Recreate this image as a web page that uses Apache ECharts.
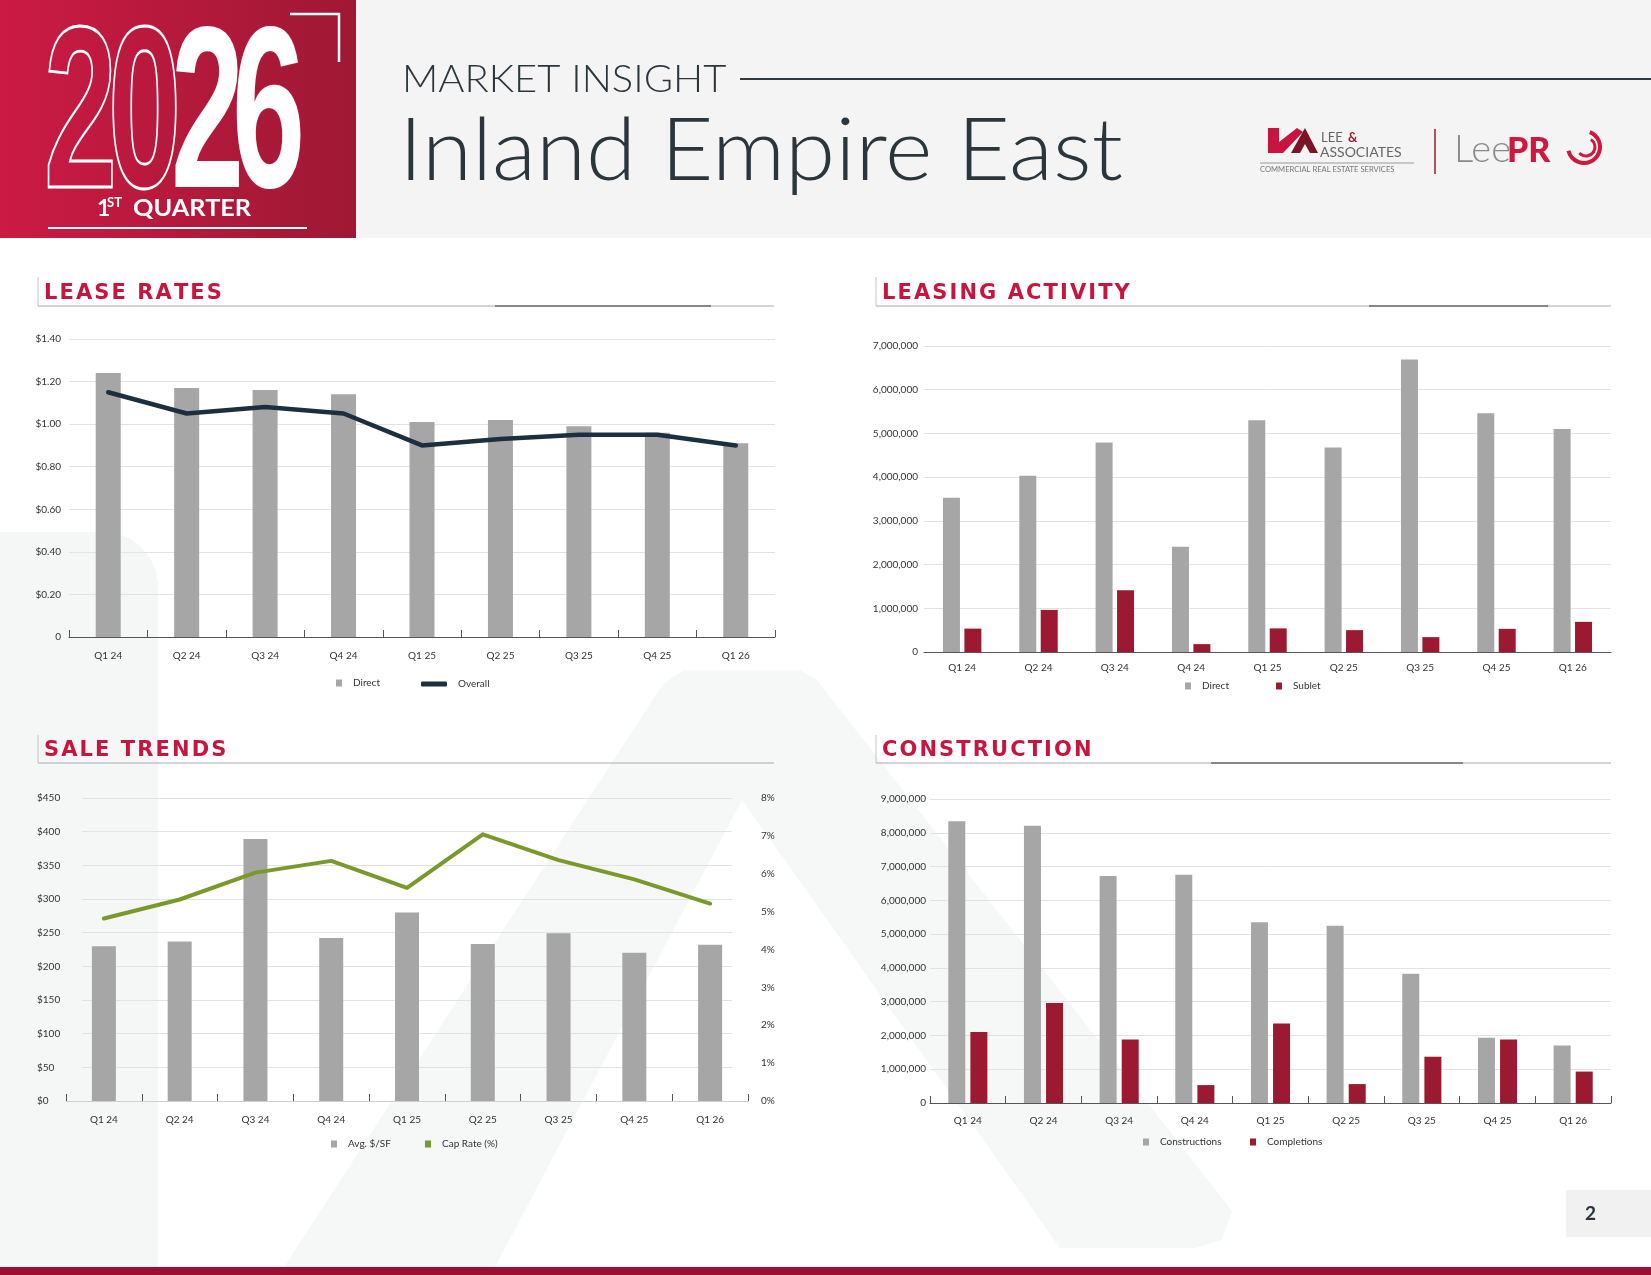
<!DOCTYPE html>
<html>
<head>
<meta charset="utf-8">
<title>Inland Empire East - Market Insight</title>
<script src="https://cdn.jsdelivr.net/npm/echarts@6/dist/echarts.min.js"></script>
<style>
  html, body { margin: 0; padding: 0; background: #ffffff; }
  #chart { width: 1651px; height: 1275px; }
</style>
</head>
<body>
<div id="chart"></div>
<script>
// Data
var quarters = ['Q1 24', 'Q2 24', 'Q3 24', 'Q4 24', 'Q1 25', 'Q2 25', 'Q3 25', 'Q4 25', 'Q1 26'];

var leaseDirect  = [1.24, 1.17, 1.16, 1.14, 1.01, 1.02, 0.99, 0.96, 0.91];
var leaseOverall = [1.15, 1.05, 1.08, 1.05, 0.90, 0.93, 0.95, 0.95, 0.90];
var leaseTicks   = ['0', '$0.20', '$0.40', '$0.60', '$0.80', '$1.00', '$1.20', '$1.40'];

var leasingDirect = [3530000, 4030000, 4790000, 2410000, 5300000, 4680000, 6690000, 5460000, 5100000];
var leasingSublet = [535000, 963000, 1410000, 180000, 540000, 500000, 340000, 530000, 690000];
var leasingTicks  = ['0', '1,000,000', '2,000,000', '3,000,000', '4,000,000', '5,000,000', '6,000,000', '7,000,000'];

var saleAvgPsf  = [230, 237, 389, 242, 280, 233, 249, 220, 232];
var saleCapRate = [4.82, 5.32, 6.03, 6.34, 5.63, 7.04, 6.36, 5.85, 5.21];
var salePsfTicks = ['$0', '$50', '$100', '$150', '$200', '$250', '$300', '$350', '$400', '$450'];
var saleCapTicks = ['0%', '1%', '2%', '3%', '4%', '5%', '6%', '7%', '8%'];

var constUnder = [8340000, 8210000, 6720000, 6760000, 5350000, 5250000, 3830000, 1930000, 1700000];
var constDone  = [2100000, 2960000, 1880000, 530000, 2350000, 560000, 1370000, 1880000, 930000];
var constTicks = ['0', '1,000,000', '2,000,000', '3,000,000', '4,000,000', '5,000,000', '6,000,000', '7,000,000', '8,000,000', '9,000,000'];

// Colors
var grey = '#a6a6a6';
var darkRed = '#9b1a31';
var navy = '#1c2f40';
var olive = '#7a992c';
var crimson = '#c8153f';

// helpers
function xCat(gridIndex, opts) {
    return {
        type: 'category', gridIndex: gridIndex, data: quarters, show: opts.show !== false,
        axisLine: { lineStyle: { color: opts.lineColor || '#555', width: 1 } },
        axisTick: { show: opts.ticks, inside: true, length: 7, lineStyle: { color: '#555' } },
        axisLabel: { fontFamily: 'Lato', fontSize: 10, color: '#333', margin: opts.margin }
    };
}

function yVal(gridIndex, max, interval, ticks, opts) {
    return {
        type: 'value', gridIndex: gridIndex, min: 0, max: max, interval: interval,
        position: opts.position || 'left',
        axisLine: { show: false }, axisTick: { show: false },
        splitLine: { show: opts.split !== false, lineStyle: { color: '#e2e2e2', width: 1 } },
        axisLabel: {
            show: opts.labels !== false,
            fontFamily: 'Lato', fontSize: 10, color: '#333', margin: opts.margin,
            align: opts.align || 'right',
            formatter: function (v, i) { return ticks[i]; }
        }
    };
}

function legendItem(name, x, y, icon, w, h) {
    return {
        left: x, top: y - 7, padding: 0, selectedMode: false,
        itemWidth: w, itemHeight: h,
        data: [{ name: name, icon: icon }],
        textStyle: { fontFamily: 'Lato', fontSize: 10, color: '#333', padding: [0, 0, 0, 6] }
    };
}

// spread caps a little, the report font is tracked out
function tracked(s) { return s.split('').join('\u200A'); }

function heading(text, x0, yTop, yLine, x1, dark) {
    var els = [
        { type: 'line', shape: { x1: x0, y1: yTop, x2: x0, y2: yLine }, style: { stroke: '#c4c4c4', lineWidth: 1 } },
        { type: 'line', shape: { x1: x0, y1: yLine, x2: x1, y2: yLine }, style: { stroke: '#a9a9a9', lineWidth: 1.2 } },
        { type: 'text', x: x0 + 6, y: (yTop + yLine) / 2 + 2,
          style: { text: tracked(text), fontFamily: 'DejaVu Sans', fontWeight: 'bold', fontSize: 21, fill: crimson, verticalAlign: 'middle' } }
    ];
    if (dark) {
        els.push({ type: 'line', shape: { x1: dark[0], y1: yLine, x2: dark[1], y2: yLine }, style: { stroke: '#6e6e6e', lineWidth: 1.4 } });
    }
    return els;
}

var graphics = [];

// background watermark shapes
graphics.push({ type: 'rect', z: -10, silent: true, shape: { x: 0, y: 532, width: 158, height: 735, r: [0, 55, 0, 0] }, style: { fill: '#f5f6f6' } });
graphics.push({ type: 'polygon', z: -10, silent: true,
    shape: { points: [[284, 1267], [663, 684], [684, 670], [800, 670], [816, 679], [1232, 1211], [1222, 1240], [1195, 1248], [1060, 1248], [742, 800], [495, 1267]] },
    style: { fill: '#f6f7f7' } });

// header band
graphics.push({ type: 'rect', shape: { x: 0, y: 0, width: 1651, height: 238 }, style: { fill: '#f4f4f4' } });
graphics.push({ type: 'rect', shape: { x: 0, y: 0, width: 356, height: 238 },
    style: { fill: new echarts.graphic.LinearGradient(0, 0, 1, 0, [{ offset: 0, color: '#cc1a44' }, { offset: 1, color: '#9e1834' }]) } });

// 2026 digits
function digit(ch, x, outline) {
    var st = { text: ch, fontFamily: 'Liberation Sans', fontWeight: 'bold', fontSize: 231, verticalAlign: 'middle', textAlign: 'left' };
    if (outline) { st.fill = 'rgba(0,0,0,0)'; st.stroke = '#ffffff'; st.lineWidth = 2.8; }
    else { st.fill = '#ffffff'; st.stroke = '#b8193b'; st.lineWidth = 2.5; }
    return { type: 'text', x: x, y: 123, scaleX: 0.569, style: st };
}
graphics.push(digit('2', 44, true));
graphics.push(digit('0', 108, true));
graphics.push(digit('2', 171, false));
graphics.push(digit('6', 232, false));
graphics.push({ type: 'polyline', shape: { points: [[290, 14], [339, 14], [339, 62]] }, style: { stroke: '#ffffff', lineWidth: 2.5, fill: null } });
graphics.push({ type: 'text', x: 97, y: 209, style: { text: '1', fontFamily: 'Lato', fontWeight: 'bold', fontSize: 23, fill: '#fff', verticalAlign: 'middle' } });
graphics.push({ type: 'text', x: 107, y: 203, style: { text: 'ST', fontFamily: 'Lato', fontWeight: 'bold', fontSize: 13, fill: '#fff', verticalAlign: 'middle' } });
graphics.push({ type: 'text', x: 133, y: 209, scaleX: 1.1, style: { text: 'QUARTER', fontFamily: 'Lato', fontWeight: 'bold', fontSize: 23, fill: '#fff', verticalAlign: 'middle' } });
graphics.push({ type: 'line', shape: { x1: 48, y1: 228, x2: 307, y2: 228 }, style: { stroke: '#ffffff', lineWidth: 2 } });

// titles
graphics.push({ type: 'text', x: 402, y: 80, scaleX: 1.08, style: { text: 'MARKET INSIGHT', fontFamily: 'Lato', fontWeight: 300, fontSize: 37, fill: '#2b363c', verticalAlign: 'middle' } });
graphics.push({ type: 'line', shape: { x1: 740, y1: 79, x2: 1651, y2: 79 }, style: { stroke: '#2f3a40', lineWidth: 2 } });
graphics.push({ type: 'text', x: 399, y: 152, scaleX: 1.057, style: { text: 'Inland Empire East', fontFamily: 'Lato', fontWeight: 300, fontSize: 86, fill: '#2b363c', verticalAlign: 'middle' } });

// Lee & Associates logo
graphics.push({ type: 'polygon', shape: { points: [[1268, 128], [1279, 128], [1279, 142], [1297, 128], [1303, 132], [1283, 153], [1268, 153]] }, style: { fill: crimson } });
graphics.push({ type: 'polygon', shape: { points: [[1291, 153], [1305, 128], [1318, 153], [1310, 153], [1305, 144], [1300, 153]] }, style: { fill: '#7d1326' } });
graphics.push({ type: 'text', x: 1321, y: 138, style: { text: 'LEE ', fontFamily: 'Lato', fontSize: 13, fill: '#666', verticalAlign: 'middle' } });
graphics.push({ type: 'text', x: 1348, y: 138, style: { text: '&', fontFamily: 'Lato', fontWeight: 'bold', fontSize: 13, fill: darkRed, verticalAlign: 'middle' } });
graphics.push({ type: 'text', x: 1320, y: 152, style: { text: 'ASSOCIATES', fontFamily: 'Lato', fontSize: 14, fill: '#666', verticalAlign: 'middle' } });
graphics.push({ type: 'line', shape: { x1: 1260, y1: 163, x2: 1414, y2: 163 }, style: { stroke: '#999', lineWidth: 1 } });
graphics.push({ type: 'text', x: 1260, y: 170, style: { text: 'COMMERCIAL REAL ESTATE SERVICES', fontFamily: 'Lato', fontSize: 7.6, fill: '#777', verticalAlign: 'middle' } });
graphics.push({ type: 'line', shape: { x1: 1435, y1: 129, x2: 1435, y2: 174 }, style: { stroke: darkRed, lineWidth: 1.5 } });
graphics.push({ type: 'text', x: 1454, y: 150, style: { text: 'Lee', fontFamily: 'Lato', fontWeight: 300, fontSize: 38, fill: '#8a8a8a', verticalAlign: 'middle' } });
graphics.push({ type: 'text', x: 1507, y: 151, style: { text: 'PR', fontFamily: 'Lato', fontWeight: 900, fontSize: 34, fill: '#d0173f', verticalAlign: 'middle' } });
graphics.push({ type: 'arc', shape: { cx: 1584, cy: 147, r: 16, startAngle: -1.2, endAngle: 2.9 }, style: { stroke: '#d0173f', lineWidth: 4, fill: null } });
graphics.push({ type: 'arc', shape: { cx: 1586, cy: 147, r: 9, startAngle: -1.0, endAngle: 2.4 }, style: { stroke: '#d0173f', lineWidth: 3, fill: null } });

// section headings
graphics = graphics.concat(heading('LEASE RATES', 38, 277, 306, 774, [495, 711]));
graphics = graphics.concat(heading('LEASING ACTIVITY', 876, 277, 306, 1611, [1369, 1548]));
graphics = graphics.concat(heading('SALE TRENDS', 38, 735, 763, 774, null));
graphics = graphics.concat(heading('CONSTRUCTION', 876, 735, 763, 1611, [1211, 1463]));

// page number and footer
graphics.push({ type: 'rect', shape: { x: 1566, y: 1190, width: 85, height: 47 }, style: { fill: '#f1f1f1' } });
graphics.push({ type: 'text', x: 1585, y: 1214, style: { text: '2', fontFamily: 'Lato', fontWeight: 'bold', fontSize: 19, fill: '#2b363c', verticalAlign: 'middle' } });
graphics.push({ type: 'rect', shape: { x: 0, y: 1267, width: 1651, height: 8 }, style: { fill: '#9c0f33' } });

var option = {
    backgroundColor: '#ffffff',
    animation: false,
    grid: [
        { left: 69, top: 339, width: 706, height: 298 },
        { left: 924, top: 346, width: 687, height: 306 },
        { left: 66, top: 798, width: 682, height: 303 },
        { left: 930, top: 799, width: 681, height: 304 },
        { left: 82, top: 798, width: 650, height: 303 }   // gridlines of sale trends are inset
    ],
    xAxis: [
        xCat(0, { ticks: true, margin: 14 }),
        xCat(1, { ticks: false, margin: 11 }),
        xCat(2, { ticks: true, margin: 14, lineColor: '#cfcfcf' }),
        xCat(3, { ticks: true, margin: 13 }),
        xCat(4, { show: false, ticks: false, margin: 0 })
    ],
    yAxis: [
        yVal(0, 1.4, 0.2, leaseTicks, { margin: 8 }),
        yVal(1, 7000000, 1000000, leasingTicks, { margin: 6 }),
        yVal(2, 450, 50, salePsfTicks, { margin: 29, align: 'left', split: false }),
        yVal(2, 8, 1, saleCapTicks, { margin: 13, align: 'left', position: 'right', split: false }),
        yVal(3, 9000000, 1000000, constTicks, { margin: 4 }),
        yVal(4, 450, 50, salePsfTicks, { margin: 0, labels: false })
    ],
    legend: [
        legendItem('Direct', 336, 685, 'rect', 6, 7),
        legendItem('Overall', 421, 686, 'roundRect', 26, 5),
        legendItem('Direct', 1185, 688, 'rect', 6, 7),
        legendItem('Sublet', 1276, 688, 'rect', 6, 7),
        legendItem('Avg. $/SF', 331, 1146, 'rect', 6, 7),
        legendItem('Cap Rate (%)', 425, 1146, 'rect', 6, 7),
        legendItem('Constructions', 1143, 1144, 'rect', 6, 7),
        legendItem('Completions', 1250, 1144, 'rect', 6, 7)
    ],
    graphic: { elements: graphics },
    series: [
        { name: 'Direct', type: 'bar', xAxisIndex: 0, yAxisIndex: 0, data: leaseDirect, barWidth: 25, itemStyle: { color: grey } },
        { name: 'Overall', type: 'line', xAxisIndex: 0, yAxisIndex: 0, data: leaseOverall, showSymbol: false, symbol: 'none',
          lineStyle: { color: navy, width: 4.5, cap: 'round', join: 'round' }, itemStyle: { color: navy } },
        { name: 'Direct', type: 'bar', xAxisIndex: 1, yAxisIndex: 1, data: leasingDirect, barWidth: 17, barGap: '26%', itemStyle: { color: grey } },
        { name: 'Sublet', type: 'bar', xAxisIndex: 1, yAxisIndex: 1, data: leasingSublet, barWidth: 17, barGap: '26%', itemStyle: { color: darkRed } },
        { name: 'Avg. $/SF', type: 'bar', xAxisIndex: 2, yAxisIndex: 2, data: saleAvgPsf, barWidth: 24, itemStyle: { color: grey } },
        { name: 'Cap Rate (%)', type: 'line', xAxisIndex: 2, yAxisIndex: 3, data: saleCapRate, showSymbol: false, symbol: 'none',
          lineStyle: { color: olive, width: 4, cap: 'round', join: 'round' }, itemStyle: { color: olive } },
        { name: 'Constructions', type: 'bar', xAxisIndex: 3, yAxisIndex: 4, data: constUnder, barWidth: 17, barGap: '30%', itemStyle: { color: grey } },
        { name: 'Completions', type: 'bar', xAxisIndex: 3, yAxisIndex: 4, data: constDone, barWidth: 17, barGap: '30%', itemStyle: { color: darkRed } }
    ]
};

var chart = echarts.init(document.getElementById('chart'));
chart.setOption(option);
</script>
</body>
</html>
